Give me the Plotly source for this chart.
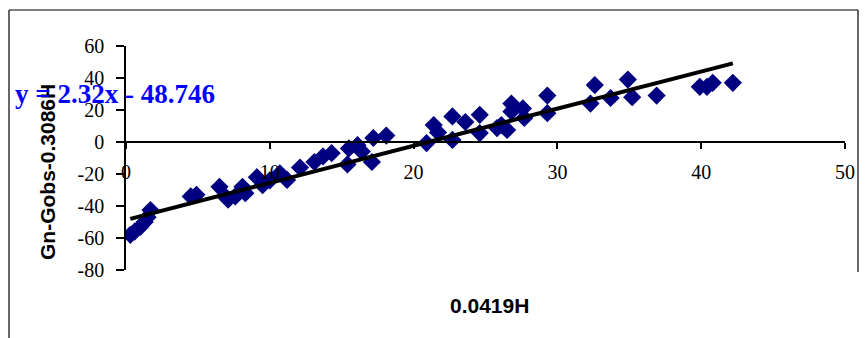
import plotly.graph_objects as go

# Data
x_vals = [0.3, 0.6, 1.0, 1.3, 1.5, 1.7, 4.5, 4.9, 6.5, 6.9, 7.1, 7.6, 8.1, 8.3,
          9.1, 9.5, 10.0, 10.7, 11.2, 12.1, 13.1, 13.7, 14.3, 15.4, 15.5, 16.1,
          16.4, 17.1, 17.2, 18.1, 20.9, 21.4, 21.7, 22.7, 22.7, 23.6, 24.6, 24.6,
          25.8, 26.1, 26.5, 26.8, 26.8, 27.6, 27.7, 29.3, 29.3, 32.3, 32.6, 33.7,
          34.9, 35.2, 36.9, 39.9, 40.4, 40.8, 42.2]
y_vals = [-58, -56, -53, -50, -47, -42.5, -34, -33, -28, -34, -36, -34, -28, -32,
          -22, -27, -24, -19.6, -23.7, -16, -12.5, -9, -7, -14, -4, -2,
          -6, -12.5, 2.5, 4, -0.7, 10.6, 6, 16, 1.3, 12.5, 17, 5.6,
          8.7, 10.6, 7.5, 24, 19, 21, 15, 29, 18, 24, 35.6, 27.5,
          39, 28, 29, 34.5, 34.5, 37, 37]

slope = 2.32
intercept = -48.746
equation_text = "y = 2.32x - 48.746"
x_title = "0.0419H"
y_title = "Gn-Gobs-0.3086H"
x_ticks = [0, 10, 20, 30, 40, 50]
x_ticklabels = ["0", "10", "20", "30", "40", "50"]
y_ticks = [-80, -60, -40, -20, 0, 20, 40, 60]
y_ticklabels = ["-80", "-60", "-40", "-20", "0", "20", "40", "60"]

x_line = [min(x_vals), max(x_vals)]
y_line = [slope * v + intercept for v in x_line]

# layout geometry (pixels)
W, H = 866, 338
L, R, T, B = 126, 845, 46, 270
pw, ph = R - L, B - T
def px(x):
    return (x - L) / pw
def py(y):
    return (B - y) / ph

SERIF = "Liberation Serif, Times New Roman, serif"
SANS = "Liberation Sans, Arial, sans-serif"

fig = go.Figure()
fig.add_trace(go.Scatter(x=x_vals, y=y_vals, mode="markers",
                         marker=dict(symbol="diamond", size=14, color="#000080",
                                     line=dict(width=0)),
                         showlegend=False, hoverinfo="skip"))
fig.add_trace(go.Scatter(x=x_line, y=y_line, mode="lines",
                         line=dict(color="black", width=4),
                         showlegend=False, hoverinfo="skip"))

y0_frac = (0 - (-80)) / (60 - (-80))

fig.update_layout(
    width=W, height=H,
    margin=dict(l=L, r=W - R, t=T, b=H - B, autoexpand=False),
    paper_bgcolor="white", plot_bgcolor="white",
    xaxis=dict(range=[0, 50], tickvals=x_ticks, ticktext=x_ticklabels,
               showgrid=False, zeroline=False,
               showline=True, linecolor="black", linewidth=1.5,
               ticks="outside", ticklen=6, tickwidth=1.5, tickcolor="black",
               anchor="free", position=y0_frac, ticklabelstandoff=6,
               tickfont=dict(family=SERIF, size=20, color="black")),
    yaxis=dict(range=[-80, 60], tickvals=y_ticks, ticktext=y_ticklabels,
               showgrid=False, zeroline=False,
               showline=True, linecolor="black", linewidth=1.5,
               ticks="outside", ticklen=8, tickwidth=1.5, tickcolor="black",
               ticklabelstandoff=8,
               tickfont=dict(family=SERIF, size=20, color="black")),
    annotations=[
        dict(text="<b>" + y_title + "</b>", xref="paper", yref="paper",
             x=px(47), y=py(172), textangle=-90, showarrow=False,
             xanchor="center", yanchor="middle",
             font=dict(family=SANS, size=21, color="black")),
        dict(text="<b>" + x_title + "</b>", xref="paper", yref="paper",
             x=px(489), y=py(305), showarrow=False,
             xanchor="center", yanchor="middle",
             font=dict(family=SANS, size=21, color="black")),
        dict(text="<b>" + equation_text + "</b>", xref="paper", yref="paper",
             x=px(13), y=py(94), showarrow=False,
             xanchor="left", yanchor="middle",
             font=dict(family=SERIF, size=27, color="#0000FF")),
    ],
    shapes=[
        dict(type="line", xref="paper", yref="paper", x0=px(9), x1=px(9),
             y0=py(10), y1=py(345), line=dict(color="black", width=1.2)),
        dict(type="line", xref="paper", yref="paper", x0=px(9), x1=px(858),
             y0=py(10), y1=py(10), line=dict(color="black", width=1.2)),
        dict(type="line", xref="paper", yref="paper", x0=px(858), x1=px(858),
             y0=py(10), y1=py(272), line=dict(color="black", width=1.2)),
    ],
)

fig.write_html("out.html")
